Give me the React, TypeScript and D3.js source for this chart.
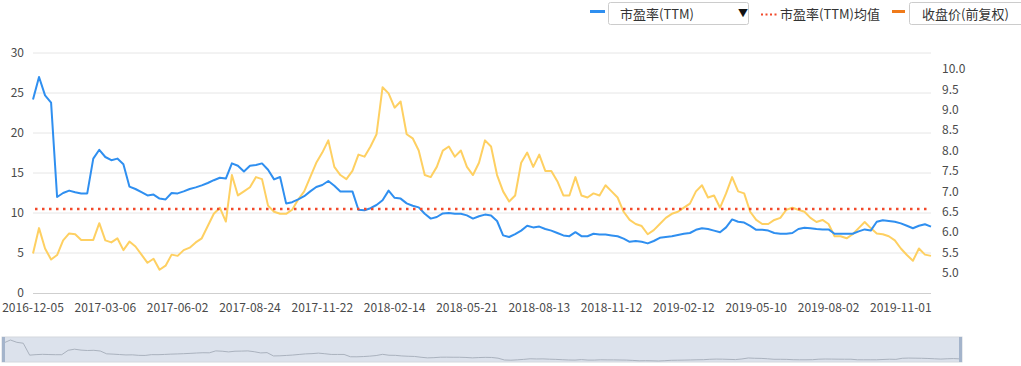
import * as d3 from 'd3';
import { useEffect, useRef } from 'react';

// category labels shown on the x axis (one every 12 samples)
const dateLabels = [
  '2016-12-05', '2017-03-06', '2017-06-02', '2017-08-24', '2017-11-22', '2018-02-14', '2018-05-21',
  '2018-08-13', '2018-11-12', '2019-02-12', '2019-05-10', '2019-08-02', '2019-11-01',
];
const labelStep = 12;

// 市盈率(TTM), left axis
const peValues = [
  24.2, 27.0, 24.7, 23.8, 12.0, 12.5, 12.8, 12.6, 12.45, 12.45,
  16.8, 17.9, 17.0, 16.6, 16.8, 16.1, 13.3, 13.0, 12.6, 12.2,
  12.3, 11.8, 11.7, 12.5, 12.45, 12.7, 13.0, 13.2, 13.45, 13.75,
  14.1, 14.4, 14.3, 16.2, 15.9, 15.2, 15.9, 16.0, 16.2, 15.4,
  14.2, 14.5, 11.2, 11.35, 11.7, 12.1, 12.7, 13.25, 13.5, 14.0,
  13.4, 12.7, 12.7, 12.7, 10.4, 10.35, 10.6, 11.0, 11.6, 12.8,
  11.9, 11.8, 11.2, 10.9, 10.7, 9.9, 9.3, 9.5, 9.95, 10.0,
  9.9, 9.9, 9.7, 9.3, 9.6, 9.8, 9.7, 9.0, 7.2, 7.0,
  7.35, 7.8, 8.4, 8.2, 8.3, 8.0, 7.8, 7.5, 7.2, 7.1,
  7.6, 7.1, 7.1, 7.4, 7.3, 7.3, 7.2, 7.1, 6.8, 6.4,
  6.5, 6.4, 6.2, 6.5, 6.9, 7.0, 7.1, 7.25, 7.4, 7.5,
  7.9, 8.1, 8.0, 7.8, 7.6, 8.2, 9.2, 8.9, 8.8, 8.4,
  7.9, 7.9, 7.8, 7.5, 7.4, 7.4, 7.5, 8.0, 8.15, 8.1,
  8.0, 7.95, 7.95, 7.4, 7.4, 7.4, 7.4, 7.7, 7.95, 7.8,
  8.9, 9.1, 9.0, 8.9, 8.7, 8.4, 8.1, 8.4, 8.6, 8.3,
];

// 收盘价(前复权), right axis
const priceValues = [
  5.48, 6.1, 5.6, 5.33, 5.44, 5.8, 5.97, 5.95, 5.81, 5.81,
  5.81, 6.22, 5.8, 5.75, 5.85, 5.56, 5.77, 5.65, 5.45, 5.25,
  5.35, 5.08, 5.18, 5.45, 5.42, 5.56, 5.62, 5.75, 5.85, 6.15,
  6.45, 6.6, 6.26, 7.4, 6.9, 7.0, 7.1, 7.35, 7.3, 6.65,
  6.5, 6.45, 6.45, 6.55, 6.8, 7.0, 7.35, 7.7, 7.95, 8.25,
  7.6, 7.4, 7.3, 7.5, 7.9, 7.85, 8.1, 8.4, 9.55, 9.4,
  9.05, 9.2, 8.4, 8.3, 8.0, 7.4, 7.35, 7.6, 8.0, 8.1,
  7.85, 8.0, 7.6, 7.4, 7.7, 8.25, 8.1, 7.4, 7.0, 6.75,
  6.9, 7.7, 7.95, 7.6, 7.9, 7.5, 7.5, 7.25, 6.9, 6.9,
  7.35, 6.9, 6.85, 6.95, 6.9, 7.15, 7.0, 6.85, 6.5, 6.3,
  6.2, 6.15, 5.95, 6.05, 6.2, 6.35, 6.45, 6.5, 6.6, 6.7,
  7.0, 7.15, 6.85, 6.9, 6.6, 6.95, 7.35, 7.0, 6.95, 6.5,
  6.3, 6.2, 6.2, 6.3, 6.35, 6.55, 6.6, 6.55, 6.5, 6.35,
  6.25, 6.3, 6.2, 5.9, 5.9, 5.85, 5.95, 6.1, 6.25, 6.1,
  5.97, 5.95, 5.9, 5.8, 5.6, 5.44, 5.3, 5.6, 5.45, 5.42,
];

const peMean = 10.5;
const leftTicks = [0, 5, 10, 15, 20, 25, 30];
const rightTicks = [5.0, 5.5, 6.0, 6.5, 7.0, 7.5, 8.0, 8.5, 9.0, 9.5, 10.0];
const rightDomain = [4.51, 10.39];

const FONT = "'Microsoft YaHei', 'Noto Sans CJK SC', sans-serif";
const BLUE = '#2f8ff0';
const YELLOW = '#fed062';
const RED = '#f2492b';
const ORANGE = '#ef7a1a';

export default function App() {
  const svgRef = useRef<SVGSVGElement>(null);

  useEffect(() => {
    if (!svgRef.current) return;
    const width = 1021;
    const height = 366;
    const svg = d3.select(svgRef.current);
    svg.selectAll('*').remove();
    svg.attr('width', width).attr('height', height).style('font-family', FONT);

    const plot = { left: 33, right: 931, top: 53, bottom: 293 };

    const x = d3.scaleLinear().domain([0, peValues.length - 1]).range([plot.left, plot.right]);
    const yLeft = d3.scaleLinear().domain([0, 30]).range([plot.bottom, plot.top]);
    const yRight = d3.scaleLinear().domain(rightDomain).range([plot.bottom, plot.top]);

    // grid
    svg.append('g')
      .selectAll('line')
      .data(leftTicks.filter((t) => t > 0))
      .enter()
      .append('line')
      .attr('x1', plot.left)
      .attr('x2', plot.right)
      .attr('y1', (d) => yLeft(d))
      .attr('y2', (d) => yLeft(d))
      .attr('stroke', '#e6e6e6')
      .attr('stroke-width', 1);

    // x axis line
    svg.append('line')
      .attr('x1', plot.left)
      .attr('x2', plot.right)
      .attr('y1', plot.bottom + 0.5)
      .attr('y2', plot.bottom + 0.5)
      .attr('stroke', '#cfcfcf')
      .attr('stroke-width', 1);

    // left axis labels
    svg.append('g')
      .selectAll('text')
      .data(leftTicks)
      .enter()
      .append('text')
      .attr('x', 24)
      .attr('y', (d) => yLeft(d))
      .attr('dy', '0.35em')
      .attr('text-anchor', 'end')
      .attr('font-size', 12)
      .attr('fill', '#4a4a4a')
      .text((d) => String(d));

    // right axis labels
    svg.append('g')
      .selectAll('text')
      .data(rightTicks)
      .enter()
      .append('text')
      .attr('x', 942)
      .attr('y', (d) => yRight(d))
      .attr('dy', '0.35em')
      .attr('font-size', 12)
      .attr('fill', '#4a4a4a')
      .text((d) => d.toFixed(1));

    // x labels
    svg.append('g')
      .selectAll('text')
      .data(dateLabels)
      .enter()
      .append('text')
      .attr('x', (_, i) => x(i * labelStep))
      .attr('y', 308)
      .attr('dy', '0.35em')
      .attr('text-anchor', 'middle')
      .attr('font-size', 12)
      .attr('fill', '#4a4a4a')
      .text((d) => d);

    // price line (right axis)
    const priceLine = d3
      .line<number>()
      .x((_, i) => x(i))
      .y((d) => yRight(d));
    svg.append('path')
      .datum(priceValues)
      .attr('fill', 'none')
      .attr('stroke', YELLOW)
      .attr('stroke-width', 2)
      .attr('stroke-linejoin', 'round')
      .attr('d', priceLine);

    // PE line (left axis)
    const peLine = d3
      .line<number>()
      .x((_, i) => x(i))
      .y((d) => yLeft(d));
    svg.append('path')
      .datum(peValues)
      .attr('fill', 'none')
      .attr('stroke', BLUE)
      .attr('stroke-width', 2)
      .attr('stroke-linejoin', 'round')
      .attr('d', peLine);

    // mean line
    svg.append('line')
      .attr('x1', plot.left + 2)
      .attr('x2', plot.right)
      .attr('y1', yLeft(peMean))
      .attr('y2', yLeft(peMean))
      .attr('stroke', RED)
      .attr('stroke-width', 2.5)
      .attr('stroke-dasharray', '2.5,4.5');

    // legend
    const legend = svg.append('g');
    legend.append('line')
      .attr('x1', 590).attr('x2', 605).attr('y1', 11.5).attr('y2', 11.5)
      .attr('stroke', BLUE).attr('stroke-width', 3);
    legend.append('rect')
      .attr('x', 608.5).attr('y', 2.5).attr('width', 140).attr('height', 22).attr('rx', 2)
      .attr('fill', '#fff').attr('stroke', '#cccccc');
    legend.append('text')
      .attr('x', 620).attr('y', 14).attr('dy', '0.35em')
      .attr('font-size', 13).attr('fill', '#333').text('市盈率(TTM)');
    legend.append('text')
      .attr('x', 738).attr('y', 13).attr('dy', '0.35em')
      .attr('font-size', 10).attr('fill', '#111').text('▼');
    legend.append('line')
      .attr('x1', 761).attr('x2', 778).attr('y1', 14.5).attr('y2', 14.5)
      .attr('stroke', RED).attr('stroke-width', 2).attr('stroke-dasharray', '2,2.5');
    legend.append('text')
      .attr('x', 780).attr('y', 14).attr('dy', '0.35em')
      .attr('font-size', 13).attr('fill', '#333').text('市盈率(TTM)均值');
    legend.append('line')
      .attr('x1', 892).attr('x2', 905).attr('y1', 11.5).attr('y2', 11.5)
      .attr('stroke', ORANGE).attr('stroke-width', 3);
    legend.append('rect')
      .attr('x', 909.5).attr('y', 2.5).attr('width', 120).attr('height', 22).attr('rx', 2)
      .attr('fill', '#fff').attr('stroke', '#cccccc');
    legend.append('text')
      .attr('x', 922).attr('y', 14).attr('dy', '0.35em')
      .attr('font-size', 13).attr('fill', '#333').text('收盘价(前复权)');

    // data zoom slider
    const slider = { left: 2, right: 962, top: 337, bottom: 362 };
    const zoom = svg.append('g');
    zoom.append('rect')
      .attr('x', slider.left).attr('y', slider.top)
      .attr('width', slider.right - slider.left).attr('height', slider.bottom - slider.top)
      .attr('fill', '#dce2ec').attr('stroke', '#d4d8de');
    const sx = d3.scaleLinear().domain([0, peValues.length - 1]).range([slider.left + 2, slider.right - 2]);
    const sy = d3
      .scaleLinear()
      .domain(d3.extent(peValues) as [number, number])
      .range([slider.bottom - 1, slider.top + 3]);
    zoom.append('path')
      .datum(peValues)
      .attr('fill', 'none')
      .attr('stroke', '#aab2be')
      .attr('stroke-width', 1)
      .attr('d', d3.line<number>().x((_, i) => sx(i)).y((d) => sy(d)));
    [slider.left, slider.right - 3].forEach((hx) => {
      zoom.append('rect')
        .attr('x', hx).attr('y', slider.top)
        .attr('width', 3).attr('height', slider.bottom - slider.top)
        .attr('fill', '#a4b4cb');
    });
  }, []);

  return (
    <div style={{ position: 'absolute', left: 0, top: 0, background: '#fff' }}>
      <svg ref={svgRef} style={{ display: 'block' }} />
    </div>
  );
}
